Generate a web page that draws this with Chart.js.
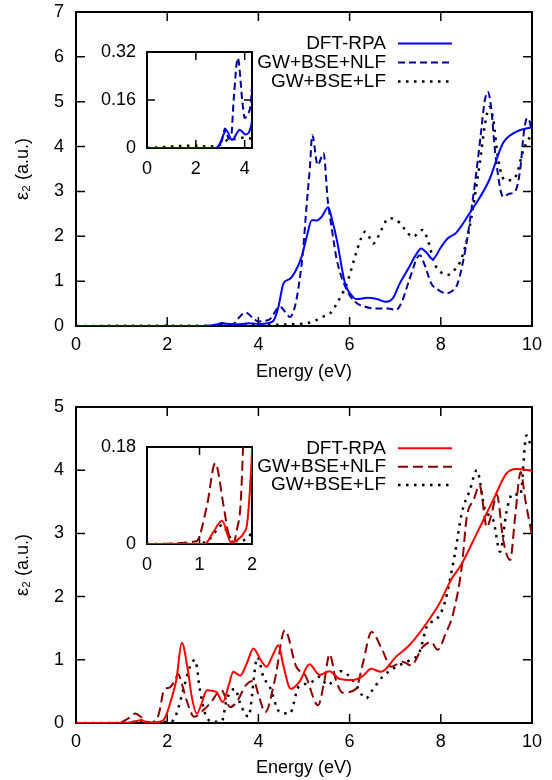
<!DOCTYPE html>
<html>
<head>
<meta charset="utf-8">
<script src="https://cdn.jsdelivr.net/npm/chart.js@4.4.1/dist/chart.umd.min.js"></script>
<style>
  html, body { margin: 0; padding: 0; background: #fff; }
  #wrap { position: relative; width: 552px; height: 780px; }
  canvas { position: absolute; }
</style>
</head>
<body>
<div id="wrap">
  <canvas id="topMain" width="552" height="390" style="left:0;top:0"></canvas>
  <canvas id="topInset" width="186" height="150" style="left:80px;top:40px"></canvas>
  <canvas id="botMain" width="552" height="390" style="left:0;top:390px"></canvas>
  <canvas id="botInset" width="186" height="150" style="left:80px;top:435px"></canvas>
</div>
<script>
// series labels
const seriesLabels = ['DFT-RPA', 'GW+BSE+NLF', 'GW+BSE+LF'];

// top panel: energy (eV) and eps2 for each curve
const topRpaE = [0, 2.8, 2.95, 3.25, 3.48, 3.8, 4.03, 4.3, 4.37, 4.44, 4.55, 4.69, 4.8, 4.95, 5.06, 5.17, 5.28, 5.39, 5.53, 5.62, 5.72, 5.9, 6.05, 6.15, 6.4, 6.6, 6.8, 6.95, 7.1, 7.31, 7.45, 7.57, 7.7, 7.82, 8.0, 8.15, 8.33, 8.63, 9.06, 9.36, 9.65, 9.9, 10];
const topRpaEps = [0, 0, 0.01, 0.058, 0.027, 0.061, 0.045, 0.09, 0.2, 0.43, 0.95, 1.05, 1.2, 1.55, 1.99, 2.36, 2.35, 2.44, 2.65, 2.35, 1.92, 0.95, 0.68, 0.6, 0.63, 0.6, 0.54, 0.62, 0.95, 1.32, 1.58, 1.73, 1.62, 1.49, 1.75, 1.95, 2.07, 2.51, 3.25, 4.07, 4.33, 4.41, 4.42];

const topNlfE = [0, 2.9, 3.05, 3.2, 3.35, 3.45, 3.55, 3.72, 3.9, 4.0, 4.1, 4.25, 4.47, 4.6, 4.69, 4.8, 4.9, 4.98, 5.05, 5.13, 5.18, 5.3, 5.43, 5.52, 5.62, 5.72, 5.94, 6.12, 6.34, 6.6, 6.85, 7.02, 7.15, 7.31, 7.54, 7.65, 7.79, 7.95, 8.11, 8.25, 8.37, 8.55, 8.7, 8.8, 8.88, 8.96, 9.03, 9.1, 9.2, 9.37, 9.5, 9.63, 9.74, 9.82, 9.89, 9.95, 10];
const topNlfEps = [0, 0, 0.02, 0.065, 0.03, 0.04, 0.16, 0.30, 0.16, 0.1, 0.11, 0.15, 0.43, 0.3, 0.2, 0.43, 1.0, 1.69, 2.6, 3.55, 4.26, 3.59, 3.85, 2.81, 2.1, 1.47, 0.8, 0.54, 0.43, 0.39, 0.39, 0.36, 0.55, 1.03, 1.58, 1.35, 0.95, 0.8, 0.73, 0.78, 0.95, 1.77, 2.81, 3.6, 4.3, 5.0, 5.22, 4.9, 3.8, 2.88, 2.95, 3.0, 3.48, 4.3, 4.63, 4.55, 4.3];

const topLfE = [0, 2.0, 2.5, 2.9, 3.1, 3.3, 3.6, 4.0, 4.4, 4.8, 5.06, 5.25, 5.42, 5.56, 5.72, 5.94, 6.12, 6.25, 6.34, 6.45, 6.52, 6.7, 6.81, 6.91, 7.1, 7.25, 7.38, 7.6, 7.72, 7.86, 8.0, 8.15, 8.3, 8.41, 8.59, 8.7, 8.85, 8.97, 9.07, 9.15, 9.26, 9.41, 9.55, 9.66, 9.81, 10];
const topLfEps = [0, 0.008, 0.005, 0.008, 0.015, 0.027, 0.03, 0.035, 0.03, 0.04, 0.06, 0.12, 0.21, 0.27, 0.5, 0.95, 1.55, 1.95, 2.1, 1.95, 1.84, 2.15, 2.36, 2.40, 2.3, 2.1, 1.99, 2.14, 1.9, 1.40, 1.2, 1.14, 1.25, 1.40, 1.99, 2.6, 3.6, 4.5, 4.88, 4.6, 3.7, 3.25, 3.25, 3.37, 3.92, 4.3];

// bottom panel
const botRpaE = [0, 1.1, 1.25, 1.43, 1.6, 1.75, 1.84, 1.91, 1.99, 2.1, 2.2, 2.32, 2.45, 2.54, 2.65, 2.75, 2.87, 3.08, 3.22, 3.35, 3.45, 3.6, 3.75, 3.89, 4.05, 4.18, 4.3, 4.44, 4.55, 4.71, 4.9, 5.12, 5.34, 5.56, 5.77, 6.07, 6.3, 6.47, 6.69, 7.02, 7.31, 7.68, 7.97, 8.22, 8.46, 8.79, 9.15, 9.44, 9.66, 10];
const botRpaEps = [0, 0, 0.02, 0.043, 0.003, 0.01, 0.02, 0.04, 0.15, 0.4, 0.68, 1.27, 0.85, 0.41, 0.15, 0.3, 0.52, 0.49, 0.33, 0.6, 0.81, 0.75, 0.95, 1.18, 1.0, 0.89, 1.05, 1.23, 0.9, 0.54, 0.65, 0.93, 0.76, 0.82, 0.70, 0.68, 0.75, 0.86, 0.81, 1.05, 1.23, 1.57, 1.89, 2.26, 2.52, 3.0, 3.53, 3.95, 4.02, 3.99];

const botNlfE = [0, 0.94, 1.14, 1.3, 1.46, 1.55, 1.65, 1.72, 1.78, 1.83, 1.93, 2.05, 2.16, 2.24, 2.33, 2.43, 2.59, 2.79, 2.94, 3.19, 3.38, 3.52, 3.74, 3.89, 4.02, 4.15, 4.36, 4.58, 4.83, 5.03, 5.31, 5.45, 5.56, 5.7, 5.85, 6.14, 6.29, 6.48, 6.72, 6.91, 7.16, 7.35, 7.6, 7.79, 7.93, 8.11, 8.27, 8.46, 8.57, 8.72, 8.85, 9.01, 9.11, 9.23, 9.37, 9.52, 9.63, 9.75, 9.86, 10];
const botNlfEps = [0, 0.005, 0.07, 0.15, 0.07, 0.02, 0.004, 0.03, 0.07, 0.18, 0.52, 0.56, 0.66, 0.77, 0.6, 0.35, 0.10, 0.2, 0.31, 0.52, 0.25, 0.33, 0.61, 0.67, 0.4, 0.17, 0.68, 1.47, 0.89, 0.75, 0.28, 0.68, 1.09, 0.68, 0.48, 0.54, 0.94, 1.44, 1.15, 0.89, 0.97, 0.91, 1.20, 1.28, 1.16, 1.42, 1.73, 2.47, 3.26, 3.53, 3.76, 3.10, 3.3, 3.61, 2.89, 2.58, 3.26, 3.97, 3.5, 2.97];

const botLfE = [0, 1.0, 1.2, 1.43, 1.6, 1.75, 1.9, 2.0, 2.13, 2.25, 2.35, 2.5, 2.61, 2.72, 2.83, 3.01, 3.2, 3.3, 3.49, 3.6, 3.78, 3.98, 4.11, 4.25, 4.47, 4.69, 4.88, 5.12, 5.34, 5.52, 5.81, 6.07, 6.36, 6.5, 6.72, 7.02, 7.31, 7.53, 7.71, 7.89, 8.08, 8.31, 8.46, 8.64, 8.79, 8.97, 9.15, 9.3, 9.44, 9.58, 9.74, 9.88, 10];
const botLfEps = [0, 0, 0.01, 0.035, 0.01, 0.005, 0.01, 0.02, 0.04, 0.25, 0.52, 0.89, 1.0, 0.52, 0.15, 0.02, 0.03, 0.36, 0.54, 0.31, 0.1, 1.04, 0.73, 0.57, 0.17, 0.15, 0.57, 0.63, 0.73, 0.6, 0.82, 0.68, 0.39, 0.52, 0.73, 0.89, 0.99, 1.12, 1.55, 1.63, 1.89, 2.68, 3.32, 3.69, 4.0, 3.37, 3.21, 2.71, 3.34, 3.63, 3.6, 4.55, 4.32];

// axis ticks
const mainXTicks = [0, 2, 4, 6, 8, 10];
const topYTicks = [0, 1, 2, 3, 4, 5, 6, 7];
const botYTicks = [0, 1, 2, 3, 4, 5];
const topInsetXTicks = [0, 2, 4];
const topInsetYTicks = [0, 0.16, 0.32];
const botInsetXTicks = [0, 1, 2];
const botInsetYTicks = [0, 0.18];

const FONT = '"Liberation Sans", Arial, Helvetica, sans-serif';
Chart.defaults.font.family = FONT;
Chart.defaults.font.size = 18;
Chart.defaults.color = '#000';

function pts(xs, ys) {
  return xs.map((x, i) => ({ x: x, y: ys[i] }));
}

function makeSets(colors, dashes, rpa, nlf, lf) {
  const base = { pointRadius: 0, borderWidth: 2, fill: false, cubicInterpolationMode: 'monotone' };
  return [
    Object.assign({}, base, { label: seriesLabels[0], data: rpa, borderColor: colors[0] }),
    Object.assign({}, base, { label: seriesLabels[1], data: nlf, borderColor: colors[1], borderDash: dashes }),
    Object.assign({}, base, { label: seriesLabels[2], data: lf, borderColor: '#000', borderDash: [2.5, 5.5], borderWidth: 2.5 })
  ];
}

// box + inward (mirrored) tick marks, gnuplot style
const frame = {
  id: 'frame',
  beforeDatasetsDraw(chart, args, opts) {
    const { ctx, chartArea: a } = chart;
    const x = chart.scales.x, y = chart.scales.y;
    const len = opts.tick || 9;
    ctx.save();
    ctx.strokeStyle = '#000';
    ctx.lineWidth = 1.5;
    ctx.beginPath();
    x.ticks.forEach(t => {
      const px = x.getPixelForValue(t.value);
      ctx.moveTo(px, a.bottom); ctx.lineTo(px, a.bottom - len);
      ctx.moveTo(px, a.top); ctx.lineTo(px, a.top + len);
    });
    y.ticks.forEach(t => {
      const py = y.getPixelForValue(t.value);
      ctx.moveTo(a.left, py); ctx.lineTo(a.left + len, py);
      ctx.moveTo(a.right, py); ctx.lineTo(a.right - len, py);
    });
    ctx.stroke();
    ctx.lineWidth = 2;
    ctx.strokeRect(a.left, a.top, a.right - a.left, a.bottom - a.top);
    ctx.restore();
  }
};

// legend: text right-aligned, line sample to its right
const gpLegend = {
  id: 'gpLegend',
  afterDatasetsDraw(chart, args, opts) {
    if (!opts.rows) return;
    const ctx = chart.ctx;
    ctx.save();
    ctx.font = '19px ' + FONT;
    ctx.textAlign = 'right';
    ctx.textBaseline = 'middle';
    chart.data.datasets.forEach((ds, i) => {
      const yy = opts.rows[i];
      ctx.fillStyle = '#000';
      ctx.fillText(ds.label, opts.textX, yy);
      ctx.strokeStyle = ds.borderColor;
      ctx.lineWidth = ds.borderWidth;
      ctx.setLineDash(ds.borderDash || []);
      ctx.beginPath();
      ctx.moveTo(opts.x1, yy);
      ctx.lineTo(opts.x2, yy);
      ctx.stroke();
    });
    ctx.restore();
  }
};

function fmt(v) {
  return v === 0 ? '0' : String(+v.toFixed(2));
}

// keep the plot area exactly where the layout padding puts it
function noPad(s) {
  s.paddingTop = 0; s.paddingBottom = 0; s.paddingLeft = 0; s.paddingRight = 0;
}

function mainChart(id, sets, yTicks, padTop, xHeight, titleBottom, legendRows) {
  return new Chart(document.getElementById(id), {
    type: 'line',
    data: { datasets: sets },
    plugins: [frame, gpLegend],
    options: {
      responsive: false,
      animation: false,
      devicePixelRatio: 1,
      events: [],
      layout: { padding: { top: padTop, right: 20, left: 0, bottom: 0 } },
      plugins: {
        legend: { display: false },
        tooltip: { enabled: false },
        frame: { tick: 9 },
        gpLegend: { rows: legendRows, textX: 386, x1: 398, x2: 452 }
      },
      scales: {
        x: {
          type: 'linear', min: mainXTicks[0], max: mainXTicks[mainXTicks.length - 1],
          afterBuildTicks: s => { s.ticks = mainXTicks.map(v => ({ value: v })); },
          ticks: { padding: 8, callback: fmt },
          grid: { display: false, drawTicks: false },
          border: { display: false },
          title: { display: true, text: 'Energy (eV)', font: { size: 18, lineHeight: 1 }, padding: { top: 0, bottom: titleBottom } },
          afterFit: s => { s.height = xHeight; noPad(s); }
        },
        y: {
          type: 'linear', min: yTicks[0], max: yTicks[yTicks.length - 1],
          afterBuildTicks: s => { s.ticks = yTicks.map(v => ({ value: v })); },
          ticks: { padding: 12, callback: fmt },
          grid: { display: false, drawTicks: false },
          border: { display: false },
          title: { display: true, text: 'ε₂ (a.u.)', font: { size: 18, lineHeight: 1 }, padding: { top: 14, bottom: 0 } },
          afterFit: s => { s.width = 76; noPad(s); }
        }
      }
    }
  });
}

function insetChart(id, sets, xTicks, xMax, yTicks, xHeight) {
  return new Chart(document.getElementById(id), {
    type: 'line',
    data: { datasets: sets },
    plugins: [frame],
    options: {
      responsive: false,
      animation: false,
      devicePixelRatio: 1,
      events: [],
      layout: { padding: { top: 12, right: 14, left: 0, bottom: 0 } },
      plugins: { legend: { display: false }, tooltip: { enabled: false }, frame: { tick: 8 } },
      scales: {
        x: {
          type: 'linear', min: xTicks[0], max: xMax,
          afterBuildTicks: s => { s.ticks = xTicks.map(v => ({ value: v })); },
          ticks: { padding: 10, callback: fmt },
          grid: { display: false, drawTicks: false },
          border: { display: false },
          afterFit: s => { s.height = xHeight; noPad(s); }
        },
        y: {
          type: 'linear', min: yTicks[0], max: yTicks[yTicks.length - 1],
          afterBuildTicks: s => { s.ticks = yTicks.map(v => ({ value: v })); },
          ticks: { padding: 11, callback: fmt },
          grid: { display: false, drawTicks: false },
          border: { display: false },
          afterFit: s => { s.width = 67; noPad(s); }
        }
      }
    }
  });
}

const topColors = ['#0000ff', '#00009c'];
const botColors = ['#ff0000', '#8b0000'];

mainChart('topMain',
  makeSets(topColors, [7, 4], pts(topRpaE, topRpaEps), pts(topNlfE, topNlfEps), pts(topLfE, topLfEps)),
  topYTicks, 12, 64, 9, [43.5, 62.5, 81.5]);
insetChart('topInset',
  makeSets(topColors, [7, 4], pts(topRpaE, topRpaEps), pts(topNlfE, topNlfEps), pts(topLfE, topLfEps)),
  topInsetXTicks, 4.3, topInsetYTicks, 42);

mainChart('botMain',
  makeSets(botColors, [10, 5], pts(botRpaE, botRpaEps), pts(botNlfE, botNlfEps), pts(botLfE, botLfEps)),
  botYTicks, 17, 57, 2.5, [58.3, 76.7, 95]);
insetChart('botInset',
  makeSets(botColors, [10, 5], pts(botRpaE, botRpaEps), pts(botNlfE, botNlfEps), pts(botLfE, botLfEps)),
  botInsetXTicks, 2, botInsetYTicks, 41);
</script>
</body>
</html>
